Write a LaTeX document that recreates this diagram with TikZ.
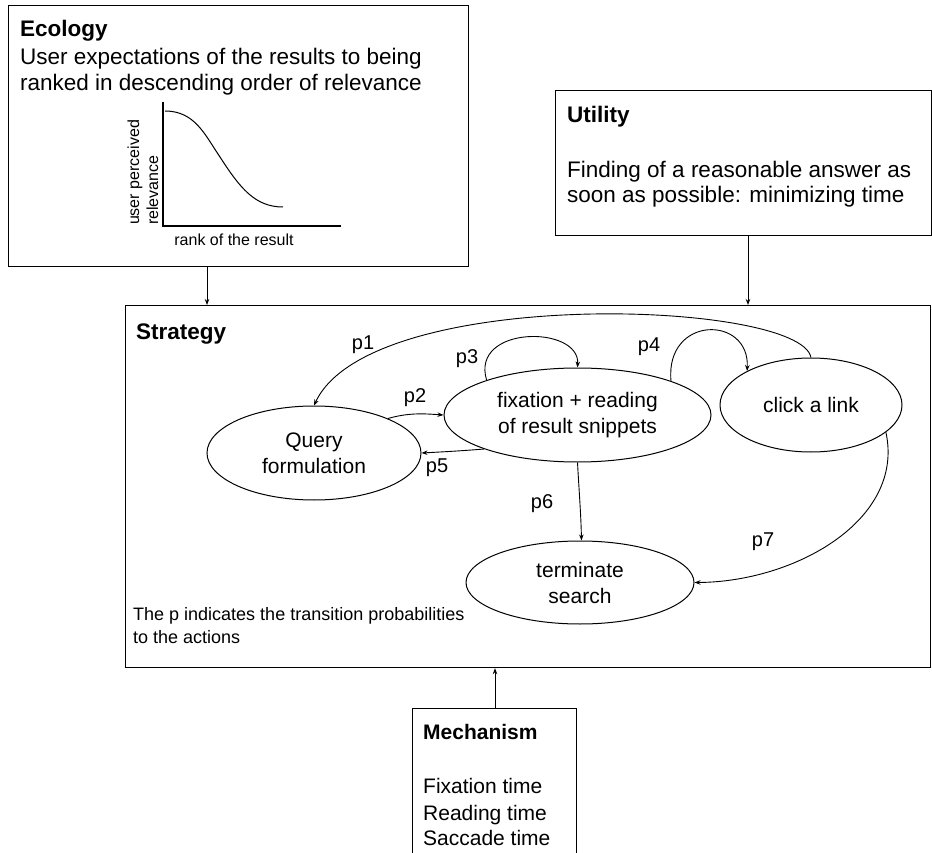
\documentclass[tikz,border=0pt]{standalone}
\usepackage{fontspec}
\setmainfont{Liberation Sans}
\usetikzlibrary{arrows.meta,shapes.geometric}
\begin{document}
\begin{tikzpicture}[x=1pt,y=-1pt,
  box/.style={draw, line width=1.2pt, rectangle, inner sep=0pt, anchor=north west},
  big/.style={anchor=base west, inner sep=0pt, font=\fontsize{22.5}{26}\selectfont},
  bigb/.style={big, font=\fontsize{22.5}{26}\selectfont\bfseries},
  mid/.style={anchor=base west, inner sep=0pt, font=\fontsize{21}{25}\selectfont},
  midb/.style={mid, font=\fontsize{21}{25}\selectfont\bfseries},
  note/.style={anchor=base west, inner sep=0pt, font=\fontsize{18}{22}\selectfont},
  small/.style={inner sep=0pt, font=\fontsize{16}{19}\selectfont},
  state/.style={draw, ellipse, line width=1pt, inner sep=0pt, align=center,
    font=\fontsize{21}{26}\selectfont},
  plab/.style={inner sep=0pt, font=\fontsize{20}{24}\selectfont},
  arr/.style={-{Stealth[length=6pt,width=4.5pt]}, line width=0.9pt},
]
\path[use as bounding box] (0,0) rectangle (932,853);
\clip (0,0) rectangle (932,853);

% ---- Ecology ----
\node[box, minimum width=460pt, minimum height=261pt] (eco) at (8,5) {};
\node[bigb] (ecot) at (20,37) {Ecology};
\node[big] (eco1) at (20,64.5) {User expectations of the results to being};
\node[big] (eco2) at (20,90.5) {ranked in descending order of relevance};
% small relevance plot
\coordinate (org) at (163,226);
\coordinate (ytop) at (163,102);
\coordinate (xend) at (341,226);
\draw[line width=1.1pt] (ytop) -- (org) -- (xend);
\draw[line width=1pt] (165,111) .. controls (195,111) and (205,135) .. (220,157)
  .. controls (240,188) and (255,207) .. (283,207);
\node[small, rotate=90, align=left] (ylab) at (143,172.5) {user perceived\\relevance};
\node[small, anchor=base] (xlab) at (234,246) {rank of the result};

% ---- Utility ----
\node[box, minimum width=376pt, minimum height=145pt] (uti) at (555,90) {};
\node[bigb] (utit) at (567,123) {Utility};
\node[big] (uti1) at (567,178) {Finding of a reasonable answer as};
\node[big] (uti2) at (567,203) {soon as possible: minimizing time};

% ---- Strategy ----
\node[box, minimum width=805pt, minimum height=362pt] (strat) at (125,305) {};
\node[bigb] (stratt) at (136,339) {Strategy};
\node[note] (n1) at (133,620.5) {The p indicates the transition probabilities};
\node[note] (n2) at (133,643) {to the actions};

\node[state, minimum width=214pt, minimum height=94pt] (query) at (314,453) {Query\\formulation};
\node[state, minimum width=267pt, minimum height=94pt] (fix) at (577.5,415) {fixation + reading\\of result snippets};
\node[state, minimum width=182pt, minimum height=94pt] (click) at (811,405) {click a link};
\node[state, minimum width=228pt, minimum height=83pt] (term) at (580,582.5) {terminate\\search};

% transitions
\draw[arr] (click.90) .. controls (800,300) and (370,285) .. (query.90);
\draw[arr] (query.25) .. controls (410,412) and (428,414) .. (fix.180);
\draw[arr] (fix.159) .. controls (470,325) and (580,325) .. (fix.90);
\draw[arr] (fix.20) .. controls (665,315) and (750,315) .. (click.152);
\draw[arr] (fix.200) .. controls (460,451) and (440,452) .. (query.0);
\draw[arr] (fix.270) .. controls (579,490) and (581,515) .. (term.88);
\draw[arr] (click.340) .. controls (905,520) and (795,582) .. (term.0);

\node[plab] (l1) at (363,345) {p1};
\node[plab] (l2) at (415,398) {p2};
\node[plab] (l3) at (467,359) {p3};
\node[plab] (l4) at (649,347) {p4};
\node[plab] (l5) at (437,468) {p5};
\node[plab] (l6) at (542,504) {p6};
\node[plab] (l7) at (763,542) {p7};

% ---- Mechanism ----
\node[box, minimum width=164pt, minimum height=170pt] (mech) at (412,708) {};
\node[midb] (mecht) at (423,739) {Mechanism};
\node[mid] (m1) at (423,793) {Fixation time};
\node[mid] (m2) at (423,820) {Reading time};
\node[mid] (m3) at (423,845) {Saccade time};

% ---- links between the boxes ----
\coordinate (ea) at (207,0);
\coordinate (ua) at (748,0);
\coordinate (ma) at (495,0);
\draw[arr] (ea |- eco.south) -- (ea |- strat.north);
\draw[arr] (ua |- uti.south) -- (ua |- strat.north);
\draw[arr] (ma |- mech.north) -- (ma |- strat.south);
\end{tikzpicture}
\end{document}
